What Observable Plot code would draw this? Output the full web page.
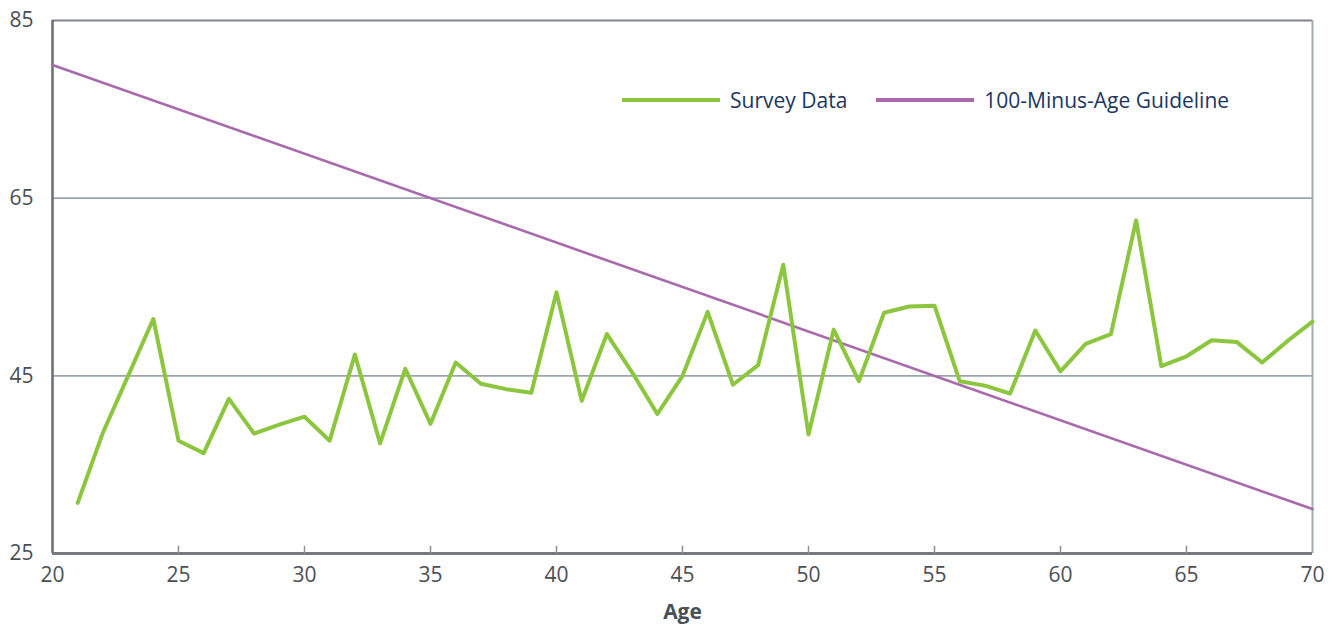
<!DOCTYPE html>
<html>
<head>
<meta charset="utf-8">
<script src="https://cdn.jsdelivr.net/npm/d3@7"></script>
<script src="https://cdn.jsdelivr.net/npm/@observablehq/plot@0.6"></script>
<style>
  body { margin: 0; background: #fff; font-family: "Open Sans", sans-serif; }
  #wrap { position: relative; width: 1338px; height: 625px; }
  #legend { position: absolute; left: 622px; top: 86px; display: flex; align-items: center;
            font-family: "Open Sans", sans-serif; font-size: 21px; color: #1c3661; }
  .sw { display: inline-block; width: 98px; height: 4px; margin-right: 10px; }
  .item { display: flex; align-items: center; margin-right: 29px; }
</style>
</head>
<body>
<div id="wrap">
  <div id="chart"></div>
  <div id="legend"></div>
</div>
<script>
// Survey data: age vs. value
const surveyAges = [21,22,23,24,25,26,27,28,29,30,31,32,33,34,35,36,37,38,39,40,
                    41,42,43,44,45,46,47,48,49,50,51,52,53,54,55,56,57,58,59,60,
                    61,62,63,64,65,66,67,68,69,70];
const surveyValues = [30.7,38.6,45.0,51.4,37.7,36.3,42.4,38.5,39.5,40.4,
                      37.7,47.4,37.4,45.8,39.6,46.5,44.1,43.5,43.1,54.4,
                      42.2,49.7,45.4,40.7,45.0,52.2,44.0,46.2,57.5,38.4,
                      50.2,44.4,52.1,52.8,52.9,44.4,43.9,43.0,50.1,45.5,
                      48.6,49.7,62.5,46.1,47.2,49.0,48.8,46.5,48.9,51.1];
// 100-minus-age guideline end points
const guideAges = [20, 70];
const guideValues = [80, 30];

const xTicks = [20,25,30,35,40,45,50,55,60,65,70];
const xInnerTicks = [25,30,35,40,45,50,55,60,65];
const yTicks = [25,45,65,85];
const gridValues = [45,65];

const seriesNames = ["Survey Data", "100-Minus-Age Guideline"];
const seriesColors = ["#8cc63f", "#a96aad"];

const survey = surveyAges.map((a, i) => ({age: a, value: surveyValues[i]}));
const guide = guideAges.map((a, i) => ({age: a, value: guideValues[i]}));

const tickShape = { draw(context, l) { context.moveTo(0, 0); context.lineTo(0, -l); } };

const chart = Plot.plot({
  width: 1338,
  height: 625,
  marginLeft: 52,
  marginRight: 26,
  marginTop: 20,
  marginBottom: 72,
  style: { fontFamily: "Open Sans, sans-serif", background: "#fff" },
  x: { domain: [20, 70] },
  y: { domain: [25, 85] },
  marks: [
    Plot.ruleY(gridValues, { stroke: "#9ba4ae", strokeWidth: 1.6 }),
    Plot.ruleY([85], { stroke: "#7f868d", strokeWidth: 2 }),
    Plot.ruleX([70], { stroke: "#a3abb3", strokeWidth: 2 }),
    Plot.ruleX([20], { stroke: "#6c7278", strokeWidth: 2.6 }),
    Plot.ruleY([25], { stroke: "#767a80", strokeWidth: 3 }),
    Plot.vector(xInnerTicks, { x: d => d, y: 25, length: 7, anchor: "start", rotate: 0,
      shape: tickShape, stroke: "#8a8f95", strokeWidth: 1.5 }),
    Plot.axisY({ ticks: yTicks, tickSize: 0, tickPadding: 19, fontSize: 21, color: "#4a4f55", label: null }),
    Plot.axisX({ ticks: xTicks, tickSize: 0, tickPadding: 14, fontSize: 21, color: "#4a4f55", label: null }),
    Plot.text(["Age"], { frameAnchor: "bottom", dy: 59, fontSize: 21, fontWeight: "bold", fill: "#4a4f55", lineAnchor: "middle" }),
    Plot.line(guide, { x: "age", y: "value", stroke: seriesColors[1], strokeWidth: 2.6 }),
    Plot.line(survey, { x: "age", y: "value", stroke: seriesColors[0], strokeWidth: 4, strokeLinejoin: "round" })
  ]
});
document.getElementById("chart").appendChild(chart);

const legend = document.getElementById("legend");
seriesNames.forEach((name, i) => {
  const item = document.createElement("div");
  item.className = "item";
  const sw = document.createElement("span");
  sw.className = "sw";
  sw.style.background = seriesColors[i];
  const label = document.createElement("span");
  label.textContent = name;
  item.appendChild(sw);
  item.appendChild(label);
  legend.appendChild(item);
});
</script>
</body>
</html>
